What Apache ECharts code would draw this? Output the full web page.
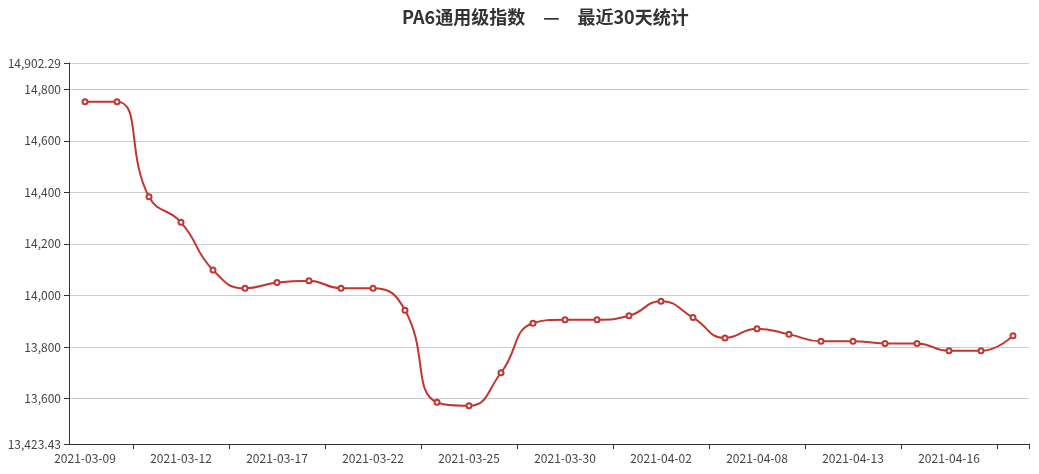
<!DOCTYPE html>
<html>
<head>
<meta charset="utf-8">
<script src="https://cdn.jsdelivr.net/npm/echarts@6/dist/echarts.min.js"></script>
<style>
html,body{margin:0;padding:0;background:#fff;}
#main{width:1039px;height:474px;}
</style>
</head>
<body>
<div id="main"></div>
<script>
var titleText = 'PA6通用级指数\u3000—\u3000最近30天统计';
var dates = ['2021-03-09','2021-03-10','2021-03-11','2021-03-12','2021-03-15','2021-03-16','2021-03-17','2021-03-18','2021-03-19','2021-03-22',
             '2021-03-23','2021-03-24','2021-03-25','2021-03-26','2021-03-29','2021-03-30','2021-03-31','2021-04-01','2021-04-02','2021-04-06',
             '2021-04-07','2021-04-08','2021-04-09','2021-04-12','2021-04-13','2021-04-14','2021-04-15','2021-04-16','2021-04-19','2021-04-20'];
var values = [14752,14752,14383,14284,14099,14028,14050,14057,14028,14028,
              13943,13585,13572,13700,13892,13906,13906,13921,13978,13914,
              13835,13871,13849,13822,13822,13814,13814,13785,13785,13844];
var yMin = 13423.43;
var yMax = 14902.29;

var font = '"Noto Sans CJK SC", "Noto Sans", sans-serif';
var chart = echarts.init(document.getElementById('main'));
chart.setOption({
  animation: false,
  title: {
    text: titleText,
    left: 397,
    top: 3,
    textStyle: {fontSize: 18, fontWeight: 'bold', color: '#333', fontFamily: font}
  },
  grid: {left: 69, right: 10, top: 63, bottom: 30, containLabel: false},
  xAxis: {
    type: 'category',
    boundaryGap: true,
    data: dates,
    axisLine: {lineStyle: {color: '#333'}},
    axisTick: {show: true, interval: function (i) { return i % 3 === 2; }, lineStyle: {color: '#333'}},
    axisLabel: {interval: 2, color: '#444', fontSize: 12, fontFamily: font, margin: 8},
    splitLine: {show: false}
  },
  yAxis: {
    type: 'value',
    min: yMin,
    max: yMax,
    splitNumber: 7,
    axisLine: {show: true, lineStyle: {color: '#333'}},
    axisTick: {show: true, lineStyle: {color: '#333'}},
    axisLabel: {color: '#444', fontSize: 12, fontFamily: font, showMinLabel: true, showMaxLabel: true},
    splitLine: {show: true, lineStyle: {color: '#ccc'}}
  },
  series: [{
    type: 'line',
    data: values,
    smooth: true,
    symbol: 'emptyCircle',
    symbolSize: 5,
    itemStyle: {color: '#c23531', borderWidth: 1, borderColor: '#d46a66'},
    lineStyle: {color: '#c23531', width: 2}
  }]
});
</script>
</body>
</html>
